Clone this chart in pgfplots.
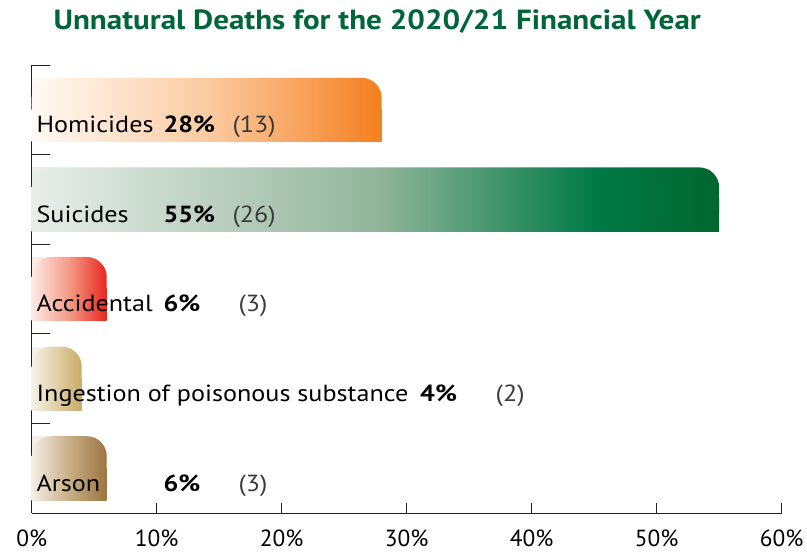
\documentclass[border=0pt]{standalone}
\usepackage{pgfplots}
\pgfplotsset{compat=1.18}
\usepackage{fontspec}
\setmainfont{PT Sans}[FakeStretch=1.12]
\newfontfamily\tickfont{PT Sans}

\definecolor{titlegreen}{HTML}{00663A}
\definecolor{parcol}{HTML}{3A3A3A}
\definecolor{axcol}{HTML}{231F20}

\definecolor{homA}{HTML}{FFFAF5}
\definecolor{homB}{HTML}{FBCBA2}
\definecolor{homC}{HTML}{F47F1F}
\definecolor{suiA}{HTML}{E8EEEA}
\definecolor{suiB}{HTML}{93B59C}
\definecolor{suiC}{HTML}{007A47}
\definecolor{suiD}{HTML}{00662F}
\definecolor{accA}{HTML}{FDEAE5}
\definecolor{accB}{HTML}{F49A85}
\definecolor{accC}{HTML}{E8251E}
\definecolor{ingA}{HTML}{F6F1E8}
\definecolor{ingB}{HTML}{E0CFA6}
\definecolor{ingC}{HTML}{C8AC66}
\definecolor{arsA}{HTML}{F5EEE5}
\definecolor{arsB}{HTML}{C9AE85}
\definecolor{arsC}{HTML}{9B7440}

\pgfdeclarehorizontalshading{homshade}{100bp}{color(0bp)=(homA); color(25bp)=(homA); color(50bp)=(homB); color(75bp)=(homC); color(100bp)=(homC)}
\pgfdeclarehorizontalshading{suishade}{100bp}{color(0bp)=(suiA); color(25bp)=(suiA); color(50bp)=(suiB); color(66bp)=(suiC); color(75bp)=(suiD); color(100bp)=(suiD)}
\pgfdeclarehorizontalshading{accshade}{100bp}{color(0bp)=(accA); color(25bp)=(accA); color(50bp)=(accB); color(75bp)=(accC); color(100bp)=(accC)}
\pgfdeclarehorizontalshading{ingshade}{100bp}{color(0bp)=(ingA); color(25bp)=(ingA); color(50bp)=(ingB); color(75bp)=(ingC); color(100bp)=(ingC)}
\pgfdeclarehorizontalshading{arsshade}{100bp}{color(0bp)=(arsA); color(25bp)=(arsA); color(50bp)=(arsB); color(75bp)=(arsC); color(100bp)=(arsC)}

\newcommand\lbl{\fontsize{17.5}{21}\selectfont}

\begin{document}
\begin{tikzpicture}
\begin{axis}[
  width=562.5pt, height=336pt, scale only axis,
  xmin=0, xmax=60, ymin=-0.5, ymax=4.5,
  axis x line*=bottom, axis y line*=left,
  axis line style={-, draw=axcol, line width=0.6pt},
  xtick={0,10,20,30,40,50,60},
  xticklabel={\pgfmathprintnumber{\tick}\%},
  /pgf/number format/assume math mode=true,
  xticklabel style={anchor=base, yshift=-25.3pt, font=\tickfont\lbl, inner sep=0pt},
  ytick={0.5,1.5,2.5,3.5,4.5}, yticklabels={},
  tick align=inside,
  xtick style={draw=axcol, line width=0.6pt, /pgfplots/major tick length=7.5pt},
  ytick style={draw=axcol, line width=0.6pt, /pgfplots/major tick length=13.5pt},
  clip=false,
]
% Homicides
\addplot[xbar, bar width=48pt, bar shift=0pt, draw=none, fill=homA] coordinates {(2,4)};
\addplot[xbar, bar width=48pt, bar shift=0pt, draw=none, shading=homshade, rounded corners=15pt] coordinates {(28,4)};
\addplot[xbar, bar width=24pt, bar shift=-12pt, draw=none, shading=homshade] coordinates {(28,4)};
% Suicides
\addplot[xbar, bar width=48pt, bar shift=0pt, draw=none, fill=suiA] coordinates {(2,3)};
\addplot[xbar, bar width=48pt, bar shift=0pt, draw=none, shading=suishade, rounded corners=15pt] coordinates {(55,3)};
\addplot[xbar, bar width=24pt, bar shift=-12pt, draw=none, shading=suishade] coordinates {(55,3)};
% Accidental
\addplot[xbar, bar width=48pt, bar shift=0pt, draw=none, fill=accA] coordinates {(1.5,2)};
\addplot[xbar, bar width=48pt, bar shift=0pt, draw=none, shading=accshade, rounded corners=15pt] coordinates {(6,2)};
\addplot[xbar, bar width=24pt, bar shift=-12pt, draw=none, shading=accshade] coordinates {(6,2)};
% Ingestion
\addplot[xbar, bar width=48pt, bar shift=0pt, draw=none, fill=ingA] coordinates {(1.2,1)};
\addplot[xbar, bar width=48pt, bar shift=0pt, draw=none, shading=ingshade, rounded corners=15pt] coordinates {(4,1)};
\addplot[xbar, bar width=24pt, bar shift=-12pt, draw=none, shading=ingshade] coordinates {(4,1)};
% Arson
\addplot[xbar, bar width=48pt, bar shift=0pt, draw=none, fill=arsA] coordinates {(1.5,0)};
\addplot[xbar, bar width=48pt, bar shift=0pt, draw=none, shading=arsshade, rounded corners=15pt] coordinates {(6,0)};
\addplot[xbar, bar width=24pt, bar shift=-12pt, draw=none, shading=arsshade] coordinates {(6,0)};

% labels
\node[anchor=base west, inner sep=0pt, font=\lbl] at (axis cs:0.37,3.745) {Homicides};
\node[anchor=base west, inner sep=0pt, font=\lbl\bfseries] at (axis cs:10.53,3.745) {28\%};
\node[anchor=base west, inner sep=0pt, font=\lbl, text=parcol] at (axis cs:16.05,3.745) {(13)};

\node[anchor=base west, inner sep=0pt, font=\lbl] at (axis cs:0.37,2.745) {Suicides};
\node[anchor=base west, inner sep=0pt, font=\lbl\bfseries] at (axis cs:10.53,2.745) {55\%};
\node[anchor=base west, inner sep=0pt, font=\lbl, text=parcol] at (axis cs:16.05,2.745) {(26)};

\node[anchor=base west, inner sep=0pt, font=\lbl] at (axis cs:0.37,1.745) {Accidental};
\node[anchor=base west, inner sep=0pt, font=\lbl\bfseries] at (axis cs:10.53,1.745) {6\%};
\node[anchor=base west, inner sep=0pt, font=\lbl, text=parcol] at (axis cs:16.53,1.745) {(3)};

\node[anchor=base west, inner sep=0pt, font=\lbl] at (axis cs:0.37,0.745) {Ingestion of poisonous substance};
\node[anchor=base west, inner sep=0pt, font=\lbl\bfseries] at (axis cs:31.06,0.745) {4\%};
\node[anchor=base west, inner sep=0pt, font=\lbl, text=parcol] at (axis cs:37.1,0.745) {(2)};

\node[anchor=base west, inner sep=0pt, font=\lbl] at (axis cs:0.37,-0.255) {Arson};
\node[anchor=base west, inner sep=0pt, font=\lbl\bfseries] at (axis cs:10.53,-0.255) {6\%};
\node[anchor=base west, inner sep=0pt, font=\lbl, text=parcol] at (axis cs:16.53,-0.255) {(3)};

% title
\node[anchor=base west, inner sep=0pt, text=titlegreen, font=\bfseries\fontsize{20.8}{24}\selectfont]
  at ([xshift=16.2pt,yshift=26.25pt]rel axis cs:0,1) {Unnatural Deaths for the 2020/21 Financial Year};

% bounding box
\path ([xshift=-23.8pt,yshift=-30.75pt]rel axis cs:0,0) rectangle ([xshift=19pt,yshift=48.75pt]rel axis cs:1,1);
\end{axis}
\end{tikzpicture}
\end{document}
